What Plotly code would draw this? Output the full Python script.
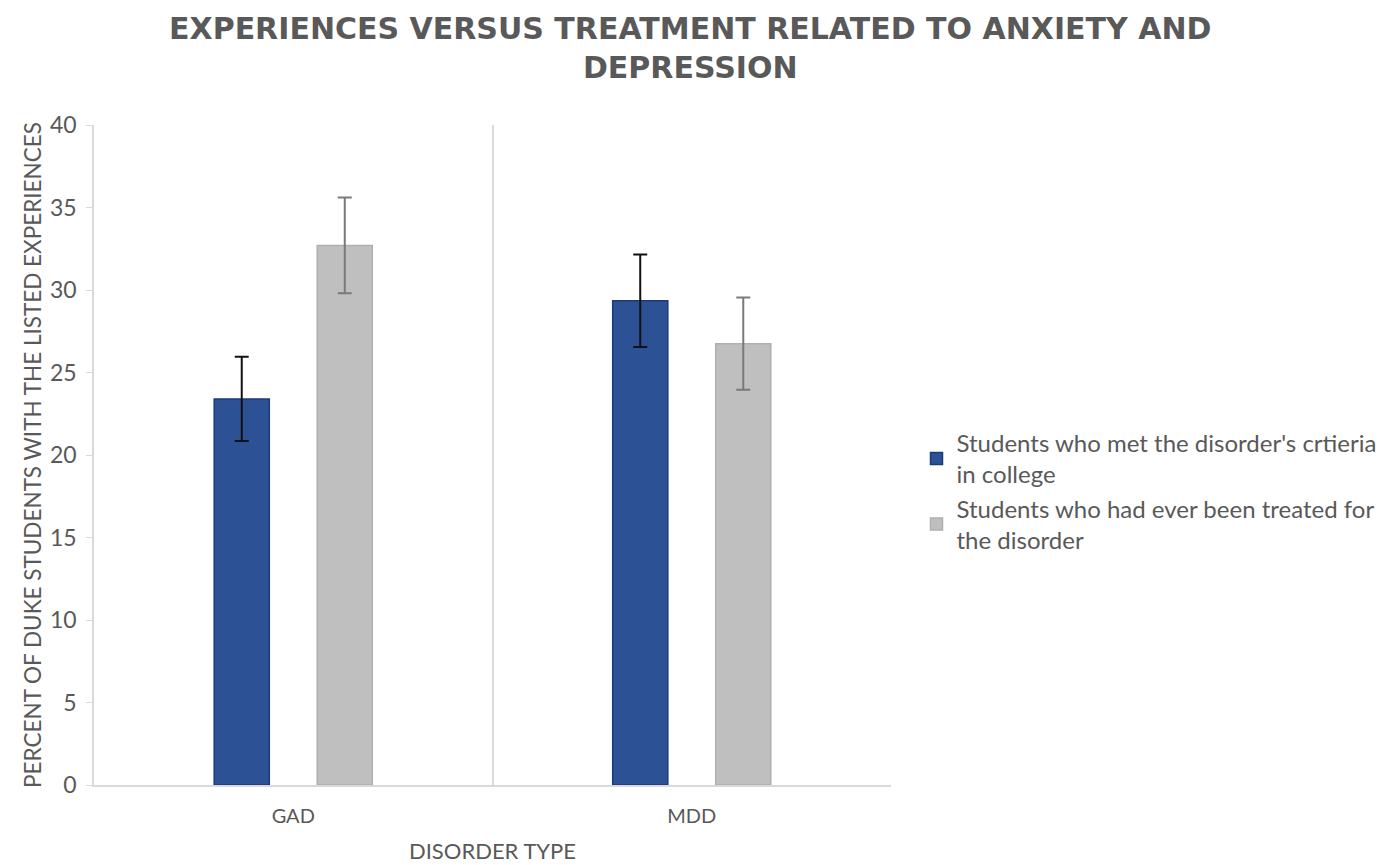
import plotly.graph_objects as go

# Disorder categories and survey percentages
disorders = ["GAD", "MDD"]
met_criteria = [23.4, 29.35]
met_criteria_err = [2.55, 2.8]
ever_treated = [32.7, 26.75]
ever_treated_err = [2.9, 2.8]

series_names = [
    "Students who met the disorder's crtieria<br>in college",
    "Students who had ever been treated for<br>the disorder",
]

TEXT = "#595959"
LINE = "#d9d9d9"
FONT = "Lato"

fig = go.Figure()
fig.add_trace(go.Bar(
    x=disorders, y=met_criteria, name=series_names[0],
    marker=dict(color="#2c5295", line=dict(color="#1c3a78", width=1.5)),
    error_y=dict(type="data", array=met_criteria_err, color="#111111",
                 thickness=2, width=7),
))
fig.add_trace(go.Bar(
    x=disorders, y=ever_treated, name=series_names[1],
    marker=dict(color="#bfbfbf", line=dict(color="#b0b0b0", width=1.5)),
    error_y=dict(type="data", array=ever_treated_err, color="#7a7a7a",
                 thickness=2, width=7),
))

fig.update_layout(
    width=1386, height=865,
    margin=dict(l=94, r=495, t=125, b=80, autoexpand=False),
    paper_bgcolor="white", plot_bgcolor="white",
    barmode="group", bargap=0.483, bargroupgap=0.465,
    font=dict(family=FONT, color=TEXT),
    title=dict(
        text="EXPERIENCES VERSUS TREATMENT RELATED TO ANXIETY AND<br>DEPRESSION",
        font=dict(family="DejaVu Sans", size=30, color=TEXT, weight="bold"),
        x=0.498, xref="container", xanchor="center",
        y=1 - 39 / 865, yref="container", yanchor="top",
    ),
    legend=dict(
        x=1.032, xanchor="left", y=0.445, yanchor="middle",
        font=dict(family=FONT, size=24, color=TEXT),
        tracegroupgap=12, bgcolor="rgba(0,0,0,0)",
    ),
    showlegend=True,
)

fig.update_yaxes(
    range=[0, 40], dtick=5, showgrid=False, zeroline=False, automargin=False,
    showline=True, linecolor=LINE, linewidth=1.5,
    ticks="outside", ticklen=6, tickcolor=LINE, ticklabelstandoff=5,
    tickfont=dict(family=FONT, size=23, color=TEXT),
    title=dict(text="PERCENT OF DUKE STUDENTS WITH THE LISTED EXPERIENCES",
               font=dict(family=FONT, size=22.5, color=TEXT), standoff=2),
)
fig.update_xaxes(
    showline=True, linecolor=LINE, linewidth=1.5, automargin=False,
    showgrid=True, gridcolor=LINE, gridwidth=1.5, tickson="boundaries",
    ticks="", ticklabelstandoff=12,
    tickfont=dict(family=FONT, size=20, color=TEXT),
    title=dict(text="DISORDER TYPE", font=dict(family=FONT, size=22, color=TEXT),
               standoff=18),
)

fig.write_html("out.html")
